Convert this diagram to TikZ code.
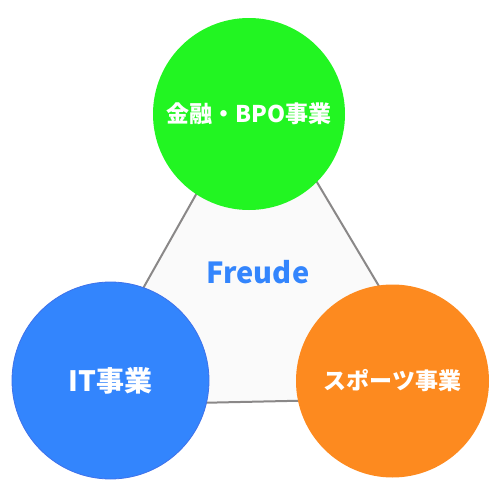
\documentclass[tikz,border=0pt]{standalone}
\usepackage{fontspec}
\setmainfont{Noto Sans CJK JP}
\usetikzlibrary{positioning}

\definecolor{kinyu}{HTML}{22F522}
\definecolor{itblue}{HTML}{3385FD}
\definecolor{sports}{HTML}{FD8A1F}
\definecolor{edge}{HTML}{8A8888}
\definecolor{core}{HTML}{FAFAFA}

\begin{document}
\begin{tikzpicture}[x=1pt, y=-1pt, thick,
    main/.style = {circle, minimum size=#1, inner sep=0pt, text=white},
    side/.style = {draw=edge, line width=2pt, fill=core}]
    \useasboundingbox (0,0) rectangle (504,490);

    % triangle behind the circles
    \coordinate (t1) at (258.4,83.9);
    \coordinate (t2) at (77,405.5);
    \coordinate (t3) at (445.4,397.6);
    \draw[side] (t1) -- (t2) -- (t3) -- cycle;

    \node[font=\bfseries\fontsize{29}{29}\selectfont, text=itblue] (freude) at (258,272) {Freude};

    \node[main=192pt, fill=kinyu, font=\bfseries\fontsize{23}{23}\selectfont] (1) at (249,114) {金融・BPO事業};
    \node[main=197pt, fill=itblue, draw=itblue!85!violet, font=\bfseries\fontsize{28}{28}\selectfont] (2) at (110.5,380.5) {IT事業};
    \node[main=193pt, fill=sports, font=\bfseries\fontsize{23}{23}\selectfont] (3) at (392.5,381) {スポーツ事業};
\end{tikzpicture}
\end{document}
